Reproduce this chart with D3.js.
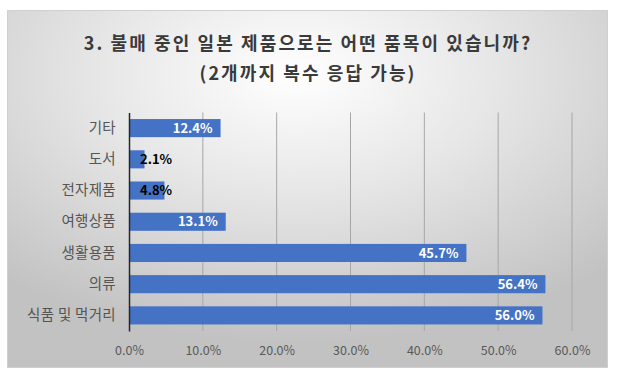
<!DOCTYPE html>
<html>
<head>
<meta charset="utf-8">
<script src="https://cdn.jsdelivr.net/npm/d3@7"></script>
<style>
body { margin: 0; background: #fff; }
svg { display: block; }
</style>
</head>
<body>
<div id="chart"></div>
<script>
var categories = ["기타", "도서", "전자제품", "여행상품", "생활용품", "의류", "식품 및 먹거리"];
var values = [12.4, 2.1, 4.8, 13.1, 45.7, 56.4, 56.0];
var ticks = [0, 10, 20, 30, 40, 50, 60];
var titleLines = ["3. 불매 중인 일본 제품으로는 어떤 품목이 있습니까?", "(2개까지 복수 응답 가능)"];

var width = 617, height = 378;
var font = "'Noto Sans CJK KR', 'Noto Sans', sans-serif";

var svg = d3.select("#chart").append("svg")
    .attr("width", width)
    .attr("height", height);

var defs = svg.append("defs");
var grad = defs.append("radialGradient")
    .attr("id", "bg")
    .attr("cx", "48%").attr("cy", "18%").attr("r", "75%");
grad.append("stop").attr("offset", "0%").attr("stop-color", "#ffffff");
grad.append("stop").attr("offset", "45%").attr("stop-color", "#e6e6e6");
grad.append("stop").attr("offset", "100%").attr("stop-color", "#c2c2c2");

// chart frame
svg.append("rect")
    .attr("x", 7.5).attr("y", 10.5)
    .attr("width", 600).attr("height", 357)
    .attr("fill", "url(#bg)")
    .attr("stroke", "#cfcfcf");

// title
svg.selectAll(".title")
    .data(titleLines)
    .enter().append("text")
    .attr("class", "title")
    .attr("x", 308)
    .attr("y", function(d, i) { return 50 + i * 30; })
    .attr("text-anchor", "middle")
    .attr("font-family", font)
    .attr("font-weight", "bold")
    .attr("font-size", 18)
    .attr("letter-spacing", 2.1)
    .attr("fill", "#3a3a3a")
    .text(function(d) { return d; });

var x = d3.scaleLinear().domain([0, 60]).range([129, 572]);
var y = d3.scaleBand().domain(categories).range([112.5, 331]).paddingInner(0.42).paddingOuter(0.21);

// gridlines
svg.selectAll(".grid")
    .data(ticks.slice(1))
    .enter().append("line")
    .attr("x1", function(d) { return x(d); })
    .attr("x2", function(d) { return x(d); })
    .attr("y1", 112.5).attr("y2", 331)
    .attr("stroke", "#a6a6a6")
    .attr("stroke-width", 1);

// bars
svg.selectAll(".bar")
    .data(values)
    .enter().append("rect")
    .attr("x", x(0))
    .attr("y", function(d, i) { return y(categories[i]); })
    .attr("width", function(d) { return x(d) - x(0); })
    .attr("height", y.bandwidth())
    .attr("fill", "#4472c4");

// x axis tick labels
var xAxis = d3.axisBottom(x)
    .tickValues(ticks)
    .tickSize(0)
    .tickPadding(0)
    .tickFormat(function(d) { return d.toFixed(1) + "%"; });
var gx = svg.append("g").attr("transform", "translate(0,346)").call(xAxis);
gx.select(".domain").remove();
gx.selectAll("text")
    .attr("font-family", font)
    .attr("font-size", 12.5)
    .attr("fill", "#595959");

// y axis
var yAxis = d3.axisLeft(y).tickSize(0).tickPadding(13);
var gy = svg.append("g").attr("transform", "translate(" + x(0) + ",0)").call(yAxis);
gy.select(".domain")
    .attr("stroke", "#262626")
    .attr("stroke-width", 1.5);
gy.selectAll("text")
    .attr("font-family", font)
    .attr("font-size", 14.5)
    .attr("letter-spacing", 0.3)
    .attr("fill", "#555555");

// value labels
svg.selectAll(".val")
    .data(values)
    .enter().append("text")
    .attr("class", "val")
    .attr("y", function(d, i) { return y(categories[i]) + y.bandwidth() / 2; })
    .attr("dy", "0.36em")
    .attr("font-family", font)
    .attr("font-weight", "bold")
    .attr("font-size", 13)
    .text(function(d) { return d.toFixed(1) + "%"; })
    .each(function(d) {
        var t = d3.select(this);
        var w = this.getComputedTextLength();
        var barW = x(d) - x(0);
        if (barW > w + 14) {
            t.attr("x", x(d) - 8).attr("text-anchor", "end").attr("fill", "#ffffff");
        } else {
            t.attr("x", x(0) + 11).attr("text-anchor", "start").attr("fill", "#000000");
        }
    });
</script>
</body>
</html>
